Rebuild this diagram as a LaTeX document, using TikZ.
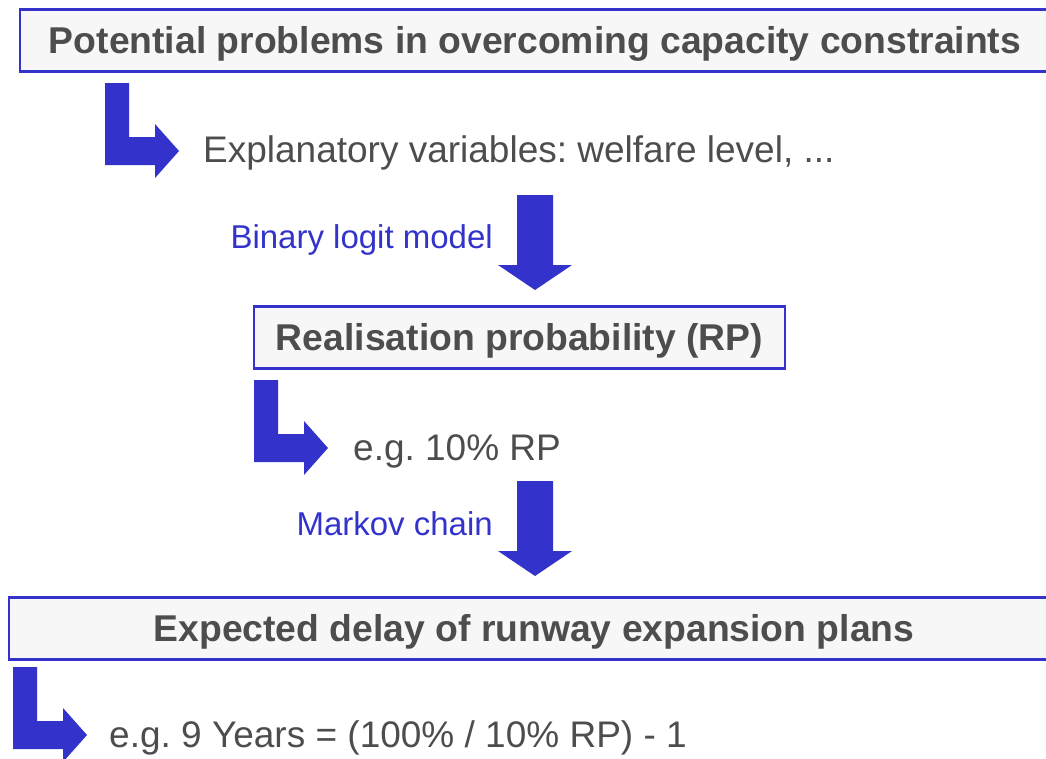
\documentclass[tikz,border=0pt]{standalone}
\usepackage{fontspec}
\setmainfont{Liberation Sans}
\usepackage{tikz}
\usetikzlibrary{calc}
\frenchspacing

\definecolor{boxblue}{RGB}{51,51,204}
\definecolor{textgray}{RGB}{77,77,77}
\definecolor{boxfill}{RGB}{247,247,247}

\begin{document}
\begin{tikzpicture}[x=1pt, y=-1pt]

 \tikzset{
    box/.style={
      rectangle,
      draw=boxblue,
      line width=2.5pt,
      fill=boxfill,
      text=textgray,
      font=\fontsize{37.3}{44}\selectfont\bfseries,
      inner sep=0pt,
      text height=31pt,
      text depth=6pt,
      minimum height=62pt
    },
    plain/.style={
      text=textgray,
      font=\fontsize{37}{44}\selectfont,
      inner sep=0pt,
      anchor=base west
    },
    method/.style={
      text=boxblue,
      font=\fontsize{33}{40}\selectfont,
      inner sep=0pt,
      anchor=base east
    },
    larrow/.pic={
      \fill[boxblue] (0,0) -- (24,0) -- (24,54) -- (50,54) -- (50,41)
        -- (74,68) -- (50,95) -- (50,82) -- (0,82) -- cycle;
    },
    darrow/.pic={
      \fill[boxblue] (-18,0) -- (18,0) -- (18,70) -- (37,70)
        -- (0,95) -- (-37,70) -- (-18,70) -- cycle;
    }
  }

\useasboundingbox (0,0) rectangle (1046,758);
\clip (0,0) rectangle (1046,758);

% boxes
\node[box, minimum width=1030pt] (problems) at (535,40.5) {Potential problems in overcoming capacity constraints};
\node[box, minimum width=531pt] (rp) at (519.5,337.5) {Realisation probability (RP)};
\node[box, minimum width=1050pt] (delay) at (534,628.5) {Expected delay of runway expansion plans};

% texts
\node[plain] (expl) at (203,162) {Explanatory variables: welfare level, ...};
\node[plain] (eg10) at (353,460) {e.g. 10\% RP};
\node[plain] (eg9) at (109,747) {e.g. 9 Years = (100\% / 10\% RP) - 1};

\node[method] (logit) at (493,248) {Binary logit model};
\node[method] (markov) at (493,535) {Markov chain};

% arrows
\coordinate (l1) at (105,83);
\coordinate (l2) at (254,380);
\coordinate (l3) at (13,667);
\coordinate (d1) at (535,195);
\coordinate (d2) at (535,481);

\pic at (l1) {larrow};
\pic at (l2) {larrow};
\pic at (l3) {larrow};
\pic at (d1) {darrow};
\pic at (d2) {darrow};

\end{tikzpicture}
\end{document}
